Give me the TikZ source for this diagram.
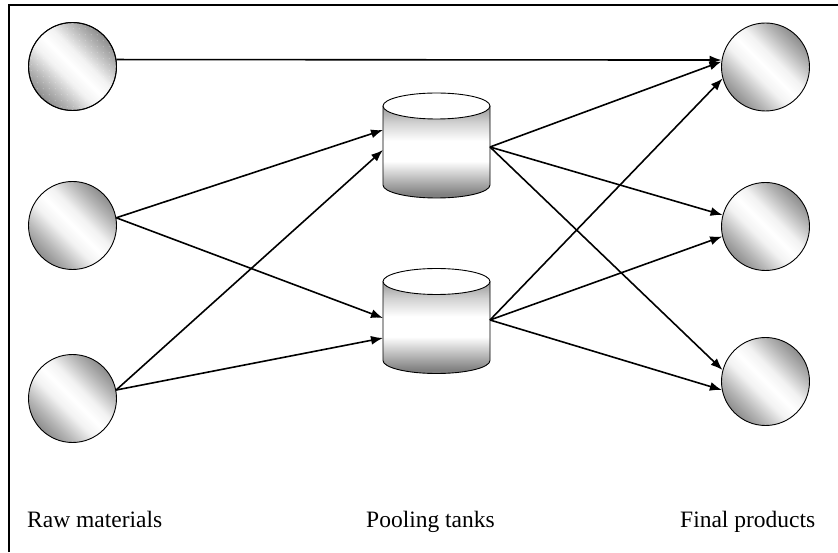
\documentclass[tikz,border=0pt]{standalone}
\usepackage{fontspec}
\setmainfont{Liberation Serif}
\usetikzlibrary{arrows.meta,patterns.meta}

% sparse stipple used on the first raw-material sphere
\tikzdeclarepattern{
  name=stipple,
  type=uncolored,
  bounding box={(0pt,0pt) and (6pt,6pt)},
  tile size={(6pt,6pt)},
  code={\fill (1pt,1pt) rectangle (2pt,2pt);}
}

% diagonal metallic gradient for the spheres
\pgfdeclareverticalshading{sphere}{100bp}{
  color(0bp)=(black!55);
  color(20bp)=(black!55);
  color(33bp)=(black!28);
  color(43bp)=(black!5);
  color(50bp)=(white);
  color(57bp)=(black!5);
  color(67bp)=(black!28);
  color(80bp)=(black!55);
  color(100bp)=(black!55)
}

% vertical metallic gradient for the tank bodies
\pgfdeclareverticalshading{tankbody}{100bp}{
  color(0bp)=(black!50);
  color(27bp)=(black!50);
  color(36bp)=(black!25);
  color(45bp)=(white);
  color(56bp)=(white);
  color(66bp)=(black!18);
  color(74bp)=(black!38);
  color(100bp)=(black!38)
}

\tikzset{
  ball/.style={circle, draw, line width=0.9pt, minimum size=88pt, inner sep=0pt,
    shading=sphere, shading angle=-45},
  flow/.style={line width=1.6pt, -{Latex[length=12pt,width=9pt]}},
  frameline/.style={line width=1.5pt},
  caption/.style={anchor=base west, inner sep=0pt, font=\fontsize{23.5}{26}\selectfont},
  pics/tank/.style={code={
    \shade[shading=tankbody] (-53.5,0) -- (-53.5,-79)
      arc[start angle=180, end angle=360, x radius=53.5, y radius=13]
      -- (53.5,0) -- cycle;
    \draw[line width=0.9pt] (-53.5,0) -- (-53.5,-79)
      arc[start angle=180, end angle=360, x radius=53.5, y radius=13]
      -- (53.5,0);
    \draw[line width=0.9pt, fill=white] (0,0) ellipse[x radius=53.5, y radius=13];
  }}
}

\begin{document}
\begin{tikzpicture}[x=1pt,y=1pt]
  \useasboundingbox (0,0) rectangle (838,552);

  % outer frame (top and left edges)
  \draw[frameline] (9,0) -- (9,547) -- (838,547);

  % raw materials
  \node[ball] (r1) at (72.5,485.5) {};
  \fill[pattern=stipple, pattern color=white, fill opacity=0.5] (r1.center) circle[radius=43pt];
  \draw[line width=0.9pt] (r1.center) circle[radius=44pt];
  \node[ball] (r2) at (72.5,326.5) {};
  \node[ball] (r3) at (72.5,153.5) {};

  % pooling tanks
  \pic (t1) at (436.5,446) {tank};
  \pic (t2) at (436.5,270.5) {tank};
  \coordinate (t1ina) at (383,422);
  \coordinate (t1inb) at (383,402);
  \coordinate (t1out) at (490,405);
  \coordinate (t2ina) at (383,234);
  \coordinate (t2inb) at (383,214);
  \coordinate (t2out) at (490,232);

  % final products
  \node[ball] (f1) at (765.5,485) {};
  \node[ball] (f2) at (765.5,325.5) {};
  \node[ball] (f3) at (765.5,170.5) {};

  % flows
  \draw[flow] (r1.9) -- (f1.171);
  \draw[flow] (r2.10) -- (t1ina);
  \draw[flow] (r2.10) -- (t2ina);
  \draw[flow] (r3.11) -- (t1inb);
  \draw[flow] (r3.11) -- (t2inb);
  \draw[flow] (t1out) -- (f1.173);
  \draw[flow] (t1out) -- (f2.165);
  \draw[flow] (t1out) -- (f3.165);
  \draw[flow] (t2out) -- (f1.195);
  \draw[flow] (t2out) -- (f2.193);
  \draw[flow] (t2out) -- (f3.191);

  % captions
  \node[caption] (lraw) at (27,25) {Raw materials};
  \node[caption] (lpool) at (366,25) {Pooling tanks};
  \node[caption] (lfinal) at (680,25) {Final products};
\end{tikzpicture}
\end{document}
